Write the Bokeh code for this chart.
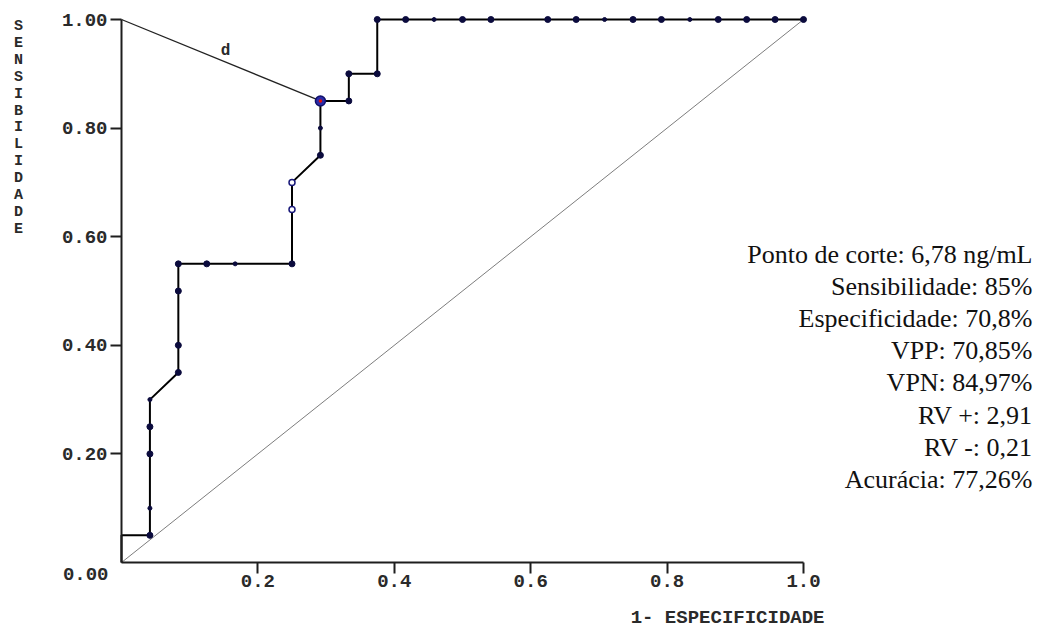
from bokeh.plotting import figure
from bokeh.models import Range1d, FixedTicker, Label, ColumnDataSource, PrintfTickFormatter
from bokeh.embed import file_html
from bokeh.resources import INLINE

# ---------------- data ----------------
N_NEG = 24  # number of negative cases (steps of 1-specificity)
fp_counts = [0, 0, 1, 1, 1, 1, 1, 2, 2, 2, 2, 3, 4, 6, 6, 6, 7, 7, 7, 8, 8, 9, 9,
             10, 11, 12, 13, 15, 16, 17, 18, 19, 20, 21, 22, 23, 24]
sensitivity = [0.00, 0.05, 0.05, 0.10, 0.20, 0.25, 0.30, 0.35, 0.40, 0.50, 0.55, 0.55, 0.55,
               0.55, 0.65, 0.70, 0.75, 0.80, 0.85, 0.85, 0.90, 0.90, 1.00,
               1.00, 1.00, 1.00, 1.00, 1.00, 1.00, 1.00, 1.00, 1.00, 1.00, 1.00, 1.00, 1.00, 1.00]
point_kind = ["none", "none", "dot", "small", "dot", "dot", "small", "dot", "dot", "dot", "dot", "dot", "small",
              "dot", "open", "open", "dot", "small", "cut", "dot", "dot", "dot", "dot",
              "dot", "small", "dot", "dot", "dot", "dot", "small", "dot", "dot", "small", "dot", "dot", "dot", "dot"]
cut_index = 18
chance_x = [0.0, 1.0]
chance_y = [0.0, 1.0]
x_ticks = [0.2, 0.4, 0.6, 0.8, 1.0]
y_ticks = [0.2, 0.4, 0.6, 0.8, 1.0]
y_zero_label = "0.00"
x_title = "1- ESPECIFICIDADE"
y_title = "SENSIBILIDADE"
d_label = "d"
stats_lines = [
    "Ponto de corte: 6,78 ng/mL",
    "Sensibilidade: 85%",
    "Especificidade: 70,8%",
    "VPP: 70,85%",
    "VPN: 84,97%",
    "RV +: 2,91",
    "RV -: 0,21",
    "Acurácia: 77,26%",
]

fpr = [c / N_NEG for c in fp_counts]

# ---------------- layout (pixels) ----------------
W, H = 1039, 628
X0, X1 = 121, 803     # pixel of x=0 and x=1
Y0, Y1 = 562, 19      # pixel of y=0 and y=1
SX = (X1 - X0)
SY = (Y0 - Y1)


def px2x(px):
    return (px - X0) / SX


def py2y(py):
    return (Y0 - py) / SY


# the frame spans the whole canvas; the axes are pinned at x=0 / y=0
p = figure(width=W, height=H, output_backend="svg", toolbar_location=None, title=None,
           x_range=Range1d(px2x(0), px2x(W)), y_range=Range1d(py2y(H), py2y(0)),
           min_border=0, min_border_left=0, min_border_right=0,
           min_border_top=0, min_border_bottom=0)
p.xgrid.visible = False
p.ygrid.visible = False
p.outline_line_color = None
p.background_fill_color = "white"
p.border_fill_color = "white"

MONO = "Liberation Mono"
AXC = "#1e1e1e"
TXC = "#2a2a2a"

for ax, ticks, fmt in ((p.xaxis[0], x_ticks, "%.1f"), (p.yaxis[0], y_ticks, "%.2f")):
    ax.ticker = FixedTicker(ticks=ticks)
    ax.formatter = PrintfTickFormatter(format=fmt)
    ax.bounds = (0, 1)
    ax.fixed_location = 0
    ax.axis_line_width = 2
    ax.axis_line_color = AXC
    ax.major_tick_line_width = 2
    ax.major_tick_line_color = AXC
    ax.major_tick_out = 11
    ax.major_tick_in = 0
    ax.minor_tick_out = 0
    ax.minor_tick_in = 0
    ax.major_label_text_font = MONO
    ax.major_label_text_font_size = "19px"
    ax.major_label_text_font_style = "bold"
    ax.major_label_text_color = TXC
p.xaxis[0].major_label_standoff = 1
p.yaxis[0].major_label_standoff = 3

# chance diagonal
p.line(chance_x, chance_y, line_color="#7d7d7d", line_width=1)

# ROC curve
p.line(fpr, sensitivity, line_color="black", line_width=2)

# distance "d" to the optimum corner
p.line([0.0, fpr[cut_index]], [1.0, sensitivity[cut_index]], line_color="#222222", line_width=1.3)

MC = "#0b0b3d"


def sel(kind):
    xs = [x for x, k in zip(fpr, point_kind) if k == kind]
    ys = [y for y, k in zip(sensitivity, point_kind) if k == kind]
    return ColumnDataSource(dict(x=xs, y=ys))


p.scatter("x", "y", source=sel("dot"), size=6, fill_color=MC, line_color=MC)
p.scatter("x", "y", source=sel("small"), size=4, fill_color=MC, line_color=MC)
p.scatter("x", "y", source=sel("open"), size=6, fill_color="white", line_color="#1a1a7a", line_width=1.5)
cut = ColumnDataSource(dict(x=[fpr[cut_index]], y=[sensitivity[cut_index]]))
p.scatter("x", "y", source=cut, size=10, fill_color="#2b2ba8", line_color="#10106a", line_width=1.5)
p.scatter("x", "y", source=cut, size=3.5, fill_color="#e01010", line_color=None)

# labels
p.add_layout(Label(x=px2x(225), y=py2y(50), text=d_label, text_font=MONO, text_font_size="16px",
                   text_font_style="bold", text_align="center", text_baseline="middle", text_color=TXC))
p.add_layout(Label(x=px2x(108), y=py2y(573), text=y_zero_label, text_font=MONO, text_font_size="19px",
                   text_font_style="bold", text_align="right", text_baseline="middle", text_color=TXC))
p.add_layout(Label(x=px2x(824), y=py2y(617), text=x_title, text_font=MONO, text_font_size="19px",
                   text_font_style="bold", text_align="right", text_baseline="middle", text_color=TXC))
for i, ch in enumerate(y_title):
    p.add_layout(Label(x=px2x(18), y=py2y(26 + i * 16.9), text=ch, text_font=MONO, text_font_size="15px",
                       text_font_style="bold", text_align="center", text_baseline="middle",
                       text_color=TXC))

for i, line in enumerate(stats_lines):
    p.add_layout(Label(x=px2x(1032), y=py2y(254 + i * 32.1), text=line, text_font="Liberation Serif",
                       text_font_size="26px", text_align="right", text_baseline="alphabetic",
                       text_color="#111111"))

open("out.html", "w").write(file_html(p, INLINE))
